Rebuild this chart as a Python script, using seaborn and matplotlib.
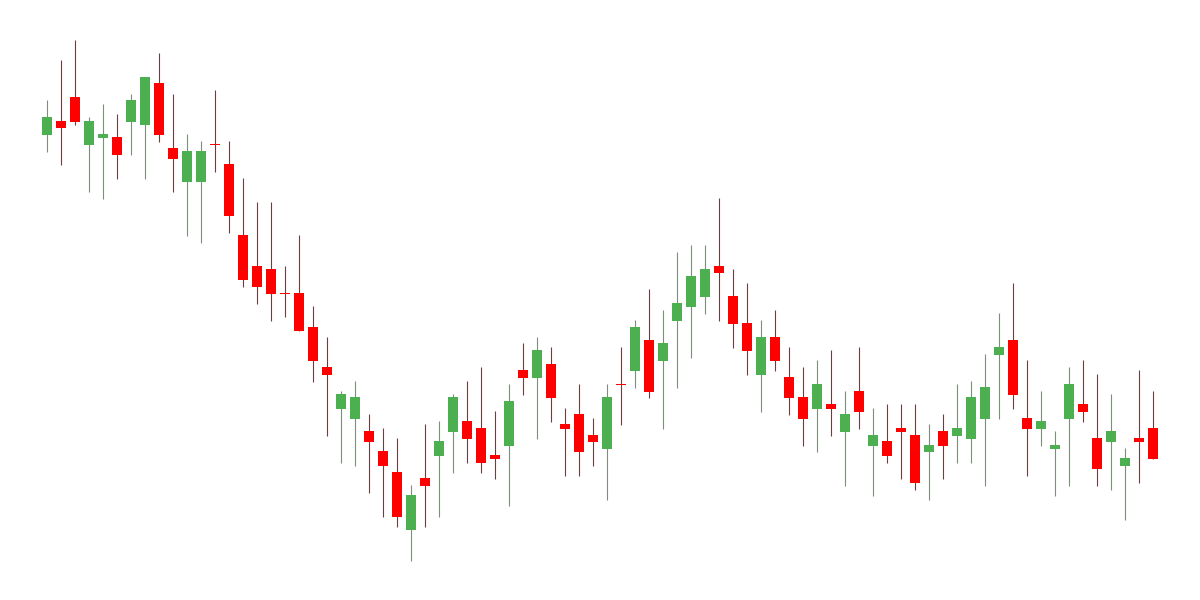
import pandas as pd
import numpy as np
import matplotlib
matplotlib.use("Agg")
import matplotlib.pyplot as plt
import seaborn as sns

# OHLC values (arbitrary price units)
opens = [465, 479, 503, 455, 462, 463, 478, 475, 517, 452,
         418, 418, 456, 436, 365, 334, 331, 307, 307, 273,
         233, 191, 181, 169, 149, 128, 70, 122, 144, 168,
         179, 172, 145, 154, 230, 222, 236, 176, 186, 165,
         151, 216, 229, 260, 239, 279, 293, 303, 334, 304,
         277, 225, 263, 223, 203, 191, 196, 168, 209, 154,
         159, 172, 165, 148, 169, 164, 161, 181, 245, 260,
         182, 171, 151, 181, 196, 162, 158, 134, 162, 172]
highs = [500, 540, 560, 483, 496, 486, 506, 523, 547, 506,
         466, 459, 510, 459, 422, 398, 398, 334, 365, 294,
         263, 209, 219, 186, 172, 162, 115, 176, 179, 206,
         219, 233, 189, 216, 257, 263, 253, 192, 216, 182,
         216, 253, 280, 311, 290, 348, 355, 355, 402, 331,
         317, 280, 290, 253, 233, 240, 250, 209, 253, 192,
         196, 196, 196, 176, 186, 216, 219, 246, 287, 317,
         240, 209, 169, 233, 240, 226, 206, 152, 230, 209]
lows = [448, 435, 475, 408, 401, 421, 445, 421, 458, 408,
        364, 357, 428, 367, 313, 296, 279, 283, 269, 218,
        164, 137, 134, 107, 83, 73, 39, 73, 83, 127,
        137, 127, 121, 94, 205, 161, 178, 124, 124, 134,
        100, 175, 212, 202, 171, 212, 242, 286, 279, 252,
        225, 188, 229, 185, 154, 148, 164, 114, 171, 104,
        137, 121, 110, 100, 121, 137, 137, 114, 181, 191,
        124, 154, 104, 114, 178, 114, 110, 80, 117, 141]
closes = [483, 472, 478, 479, 466, 445, 500, 523, 465, 441,
          449, 449, 455.5, 384, 320, 313, 306, 306.5, 269, 239,
          225, 206, 203, 158, 134, 83, 105, 114, 159, 203,
          161, 137, 141, 199, 222, 250, 202, 171, 148, 158,
          203, 215.5, 273, 208, 257, 297, 324, 331, 327, 276,
          249, 263, 239, 202, 181, 216, 191, 186, 188, 165,
          144, 168, 117, 155, 154, 172, 203, 213, 253, 205,
          171, 179, 155, 216, 188, 131, 169, 142, 158, 141]

UP = "#4CAF50"
DOWN = "#FF0000"

df = pd.DataFrame({"open": opens, "high": highs, "low": lows, "close": closes})
df["idx"] = np.arange(len(df))
df["up"] = df["close"] >= df["open"]
df["color"] = np.where(df["up"], UP, DOWN)
df["bottom"] = df[["open", "close"]].min(axis=1)
df["height"] = (df["close"] - df["open"]).abs().clip(lower=1)

sns.set_style("white")
fig = plt.figure(figsize=(12, 6), dpi=100)
ax = fig.add_axes([0, 0, 1, 1])

# wicks
ax.vlines(df["idx"], df["low"], df["high"], colors=df["color"], linewidth=0.8)
# bodies
ax.bar(df["idx"], df["height"], bottom=df["bottom"], width=0.77,
       color=df["color"], linewidth=0)

n = len(df)
pad = 47 / 14
ax.set_xlim(-pad, n - 1 + pad)
ax.set_ylim(0, 600)
ax.axis("off")
sns.despine(left=True, bottom=True)

fig.savefig("out.png", dpi=100, facecolor="white")
plt.close(fig)
